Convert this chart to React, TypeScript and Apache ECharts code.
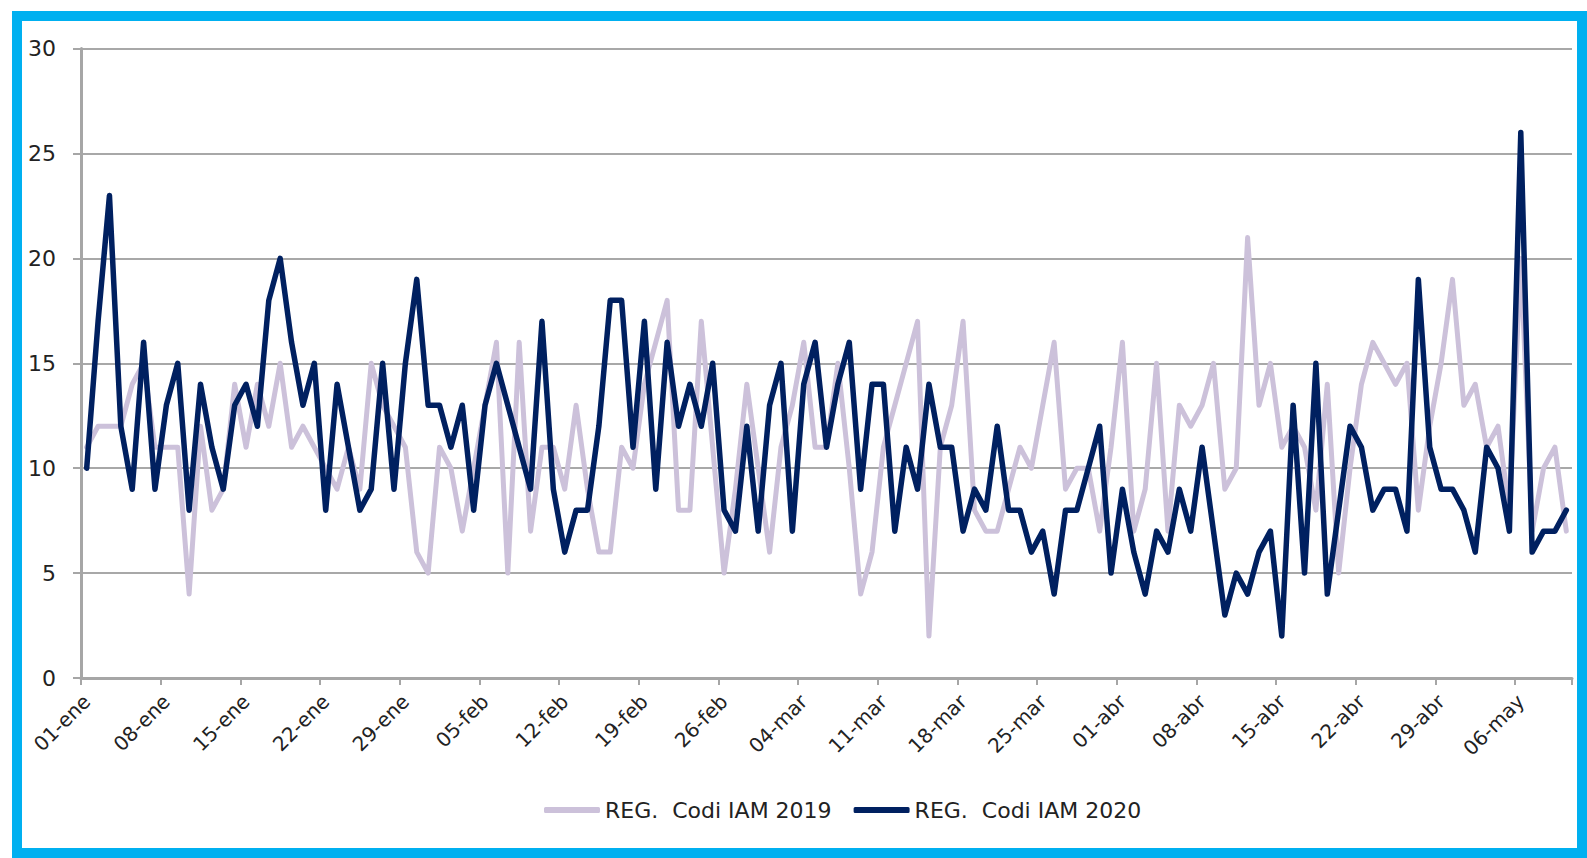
import React, { useEffect, useRef } from "react";
import * as echarts from "echarts";

// Month abbreviations and number of days shown for each (2020, leap year)
const monthNames = ["ene", "feb", "mar", "abr", "may"];
const monthDays = [31, 29, 31, 30, 10];

const categories: string[] = [];
monthNames.forEach((m, k) => {
  for (let d = 1; d <= monthDays[k]; d++) {
    categories.push((d < 10 ? "0" + d : "" + d) + "-" + m);
  }
});

const seriesNames = ["REG.  Codi IAM 2019", "REG.  Codi IAM 2020"];

const values2019 = [
  11, 12, 12, 12, 14, 15, 11, 11, 11, 4, 12, 8, 9, 14, 11, 14, 12,
  15, 11, 12, 11, 10, 9, 11, 9, 15, 13, 12, 11,
  6, 5, 11, 10, 7, 10, 13, 16, 5, 16, 7, 11, 11,
  9, 13, 9, 6, 6, 11, 10, 14, 16, 18, 8, 8, 17, 11,
  5, 9, 14, 10, 6, 11, 13,
  16, 11, 11, 15, 10, 4, 6, 11, 13, 15, 17, 2, 11, 13, 17, 8, 7, 7, 9, 11, 10, 13, 16, 9, 10,
  10, 7, 11, 16, 7, 9, 15, 7, 13, 12, 13, 15, 9, 10, 21, 13, 15, 11, 12, 11, 8, 14, 5,
  10, 14, 16, 15, 14, 15, 8, 12, 15, 19, 13, 14, 11, 12, 8, 20, 7, 10, 11, 7,
];

const values2020 = [
  10, 17, 23, 12, 9, 16, 9, 13, 15, 8, 14, 11, 9, 13, 14, 12, 18,
  20, 16, 13, 15, 8, 14, 11, 8, 9, 15, 9, 15, 19, 13, 13, 11, 13, 8, 13, 15, 13, 11, 9, 17, 9,
  6, 8, 8, 12, 18, 18, 11, 17, 9, 16, 12, 14, 12, 15, 8, 7, 12, 7, 13, 15, 7, 14, 16,
  11, 14, 16, 9, 14, 14, 7, 11, 9, 14, 11, 11, 7, 9, 8, 12, 8, 8, 6, 7, 4, 8, 8,
  10, 12, 5, 9, 6, 4, 7, 6, 9, 7, 11, 7, 3, 5, 4, 6, 7, 2, 13, 5, 15, 4, 8,
  12, 11, 8, 9, 9, 7, 19, 11, 9, 9, 8, 6, 11, 10, 7, 26, 6, 7, 7, 8,
];

const yTicks = [0, 5, 10, 15, 20, 25, 30];

const FONT = "DejaVu Sans";
const TEXT_COLOR = "#222222";
const AXIS_COLOR = "#A6A6A6";

export default function App() {
  const ref = useRef<HTMLDivElement>(null);

  useEffect(() => {
    if (!ref.current) return;
    const chart = echarts.init(ref.current, undefined, { renderer: "svg" });
    chart.setOption({
      animation: false,
      backgroundColor: "transparent",
      grid: { left: 81, right: 15, top: 48.6, bottom: 180, containLabel: false },
      legend: {
        left: 539,
        top: 794,
        icon: "roundRect",
        itemWidth: 56,
        itemHeight: 6,
        itemGap: 22,
        textStyle: { fontFamily: FONT, fontSize: 22, color: TEXT_COLOR },
        data: seriesNames,
      },
      xAxis: {
        type: "category",
        data: categories,
        boundaryGap: true,
        axisLine: { show: true, lineStyle: { color: AXIS_COLOR, width: 3 } },
        axisTick: { show: true, interval: 6, length: 7, lineStyle: { color: AXIS_COLOR, width: 2 } },
        axisLabel: {
          interval: 6,
          rotate: 45,
          margin: 20,
          fontFamily: FONT,
          fontSize: 20,
          color: TEXT_COLOR,
        },
        splitLine: { show: false },
      },
      yAxis: {
        type: "value",
        min: yTicks[0],
        max: yTicks[yTicks.length - 1],
        interval: 5,
        axisLine: { show: true, lineStyle: { color: AXIS_COLOR, width: 3 } },
        axisTick: { show: true, length: 8, lineStyle: { color: AXIS_COLOR, width: 2 } },
        axisLabel: { margin: 25, fontFamily: FONT, fontSize: 22, color: TEXT_COLOR },
        splitLine: { show: true, lineStyle: { color: "#A8A8A8", width: 2 } },
      },
      series: [
        {
          name: seriesNames[0],
          type: "line",
          data: values2019,
          symbol: "none",
          itemStyle: { color: "#CCC1DA" },
          lineStyle: { color: "#CCC1DA", width: 5, cap: "round", join: "round" },
          z: 2,
        },
        {
          name: seriesNames[1],
          type: "line",
          data: values2020,
          symbol: "none",
          itemStyle: { color: "#002060" },
          lineStyle: { color: "#002060", width: 5.5, cap: "round", join: "round" },
          z: 3,
        },
      ],
    });
    return () => chart.dispose();
  }, []);

  return (
    <div style={{ position: "fixed", left: 0, top: 0, width: 1587, height: 858, background: "#ffffff", overflow: "hidden" }}>
      <div
        style={{
          position: "absolute",
          left: 12,
          top: 11,
          width: 1587 - 12,
          height: 858 - 11,
          boxSizing: "border-box",
          border: "10px solid #00B0F0",
        }}
      />
      <div ref={ref} style={{ position: "absolute", left: 0, top: 0, width: 1587, height: 858 }} />
    </div>
  );
}
